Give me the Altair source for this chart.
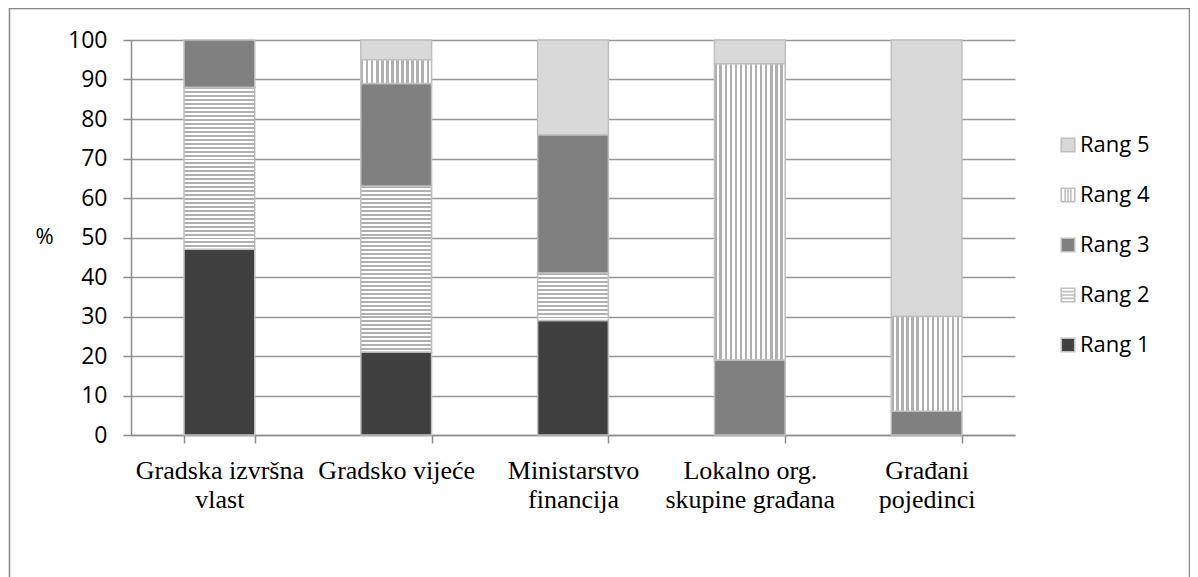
import altair as alt
import pandas as pd

categories = [
    "Gradska izvršna\nvlast",
    "Gradsko vijeće",
    "Ministarstvo\nfinancija",
    "Lokalno org.\nskupine građana",
    "Građani\npojedinci",
]
ranks = ["Rang 1", "Rang 2", "Rang 3", "Rang 4", "Rang 5"]
rang1 = [47, 21, 29, 0, 0]
rang2 = [41, 42, 12, 0, 0]
rang3 = [12, 26, 35, 19, 6]
rang4 = [0, 6, 0, 75, 24]
rang5 = [0, 5, 24, 6, 70]
series = [rang1, rang2, rang3, rang4, rang5]

STRIPE = "#b0b0b0"
WHITE = "#ffffff"
BORDER = "#bfbfbf"

rows = []
for ri, (r, vals) in enumerate(zip(ranks, series)):
    for c, v in zip(categories, vals):
        rows.append({"category": c, "rank": r, "order": ri, "value": v})
df = pd.DataFrame(rows)


def stripes(n, vertical):
    stops = []
    for i in range(n):
        a, b, c = i / n, (i + 0.5) / n, (i + 1) / n
        stops += [
            {"offset": a, "color": STRIPE},
            {"offset": b, "color": STRIPE},
            {"offset": b, "color": WHITE},
            {"offset": c, "color": WHITE},
        ]
    return {
        "gradient": "linear",
        "stops": stops,
        "x1": 0,
        "y1": 0,
        "x2": 1 if vertical else 0,
        "y2": 0 if vertical else 1,
    }


x_enc = alt.X(
    "category:N",
    sort=categories,
    scale=alt.Scale(paddingInner=0.6, paddingOuter=0.3),
    axis=alt.Axis(
        title=None,
        labelAngle=0,
        labelExpr="split(datum.label, '\\n')",
        labelFont="Liberation Serif",
        labelFontSize=26,
        labelLineHeight=29,
        labelColor="#000000",
        labelPadding=14,
        labelLimit=400,
        labelOverlap=False,
        tickBand="extent",
        tickSize=8,
        tickColor="#8c8c8c",
        tickWidth=1.5,
        domainColor="#8c8c8c",
        domainWidth=1.5,
        grid=False,
    ),
)
y_axis = alt.Axis(
    values=list(range(0, 101, 10)),
    title="%",
    titleAngle=0,
    titleFont="Open Sans",
    titleFontSize=22,
    titleFontWeight="normal",
    titleColor="#000000",
    titleX=-87,
    titleY=196,
    titleAlign="center",
    titleBaseline="middle",
    labelFont="Open Sans",
    labelFontSize=23,
    labelColor="#000000",
    labelPadding=16,
    tickSize=8,
    tickColor="#8c8c8c",
    tickWidth=1.5,
    domainColor="#8c8c8c",
    domainWidth=1.5,
    grid=True,
    gridColor="#989898",
    gridWidth=1.5,
)
y_scale = alt.Scale(domain=[0, 100], nice=False)
y_enc = alt.Y("y0:Q", scale=y_scale, axis=y_axis)

base = alt.Chart(df).transform_stack(
    stack="value",
    groupby=["category"],
    as_=["y0", "y1"],
    sort=[alt.SortField("order", order="ascending")],
).transform_filter("datum.value > 0")

legend_domain = ["Rang 5", "Rang 4", "Rang 3", "Rang 2", "Rang 1"]
legend_range = ["#d9d9d9", "#ffffff", "#808080", "#ffffff", "#404040"]
SQ = "M-1,-1H1V1H-1Z"
legend_shapes = [
    SQ,
    SQ + "M-0.42,-1V1M0,-1V1M0.42,-1V1",
    SQ,
    SQ + "M-1,-0.5H1M-1,0H1M-1,0.5H1",
    SQ,
]
legend = alt.Legend(
    title=None,
    orient="none",
    legendX=926,
    legendY=94,
    symbolSize=180,
    symbolStrokeWidth=1.6,
    symbolOpacity=1,
    labelFont="Open Sans",
    labelFontSize=22,
    labelColor="#000000",
    labelOffset=1,
    rowPadding=28,
)

solid_pred = alt.FieldOneOfPredicate(field="rank", oneOf=["Rang 1", "Rang 3", "Rang 5"])

# hidden points (covered by the solid bars) that carry the colour+shape legend
keys = base.transform_filter(solid_pred).transform_calculate(
    mid="(datum.y0 + datum.y1) / 2"
).mark_point(filled=True, size=20, opacity=1, stroke=BORDER, strokeWidth=1.6).encode(
    x=x_enc,
    y=alt.Y("mid:Q", scale=y_scale, axis=y_axis),
    color=alt.Color("rank:N", scale=alt.Scale(domain=legend_domain, range=legend_range), legend=legend),
    shape=alt.Shape("rank:N", scale=alt.Scale(domain=legend_domain, range=legend_shapes), legend=legend),
)

solid = base.transform_filter(solid_pred).mark_bar(stroke=BORDER, strokeWidth=1.5).encode(
    x=x_enc,
    y=y_enc,
    y2="y1:Q",
    color=alt.Color("rank:N", scale=alt.Scale(domain=legend_domain, range=legend_range), legend=None),
)

layers = [keys, solid]
for c, v in zip(categories, rang2):
    if v > 0:
        layers.append(
            base.transform_filter(
                (alt.datum.rank == "Rang 2") & (alt.datum.category == c)
            ).mark_bar(fill=stripes(int(round(v)), False), stroke=BORDER, strokeWidth=1.5)
            .encode(x=x_enc, y=y_enc, y2="y1:Q")
        )
layers.append(
    base.transform_filter(alt.datum.rank == "Rang 4")
    .mark_bar(fill=stripes(14, True), stroke=BORDER, strokeWidth=1.5)
    .encode(x=x_enc, y=y_enc, y2="y1:Q")
)

frame = alt.Chart(pd.DataFrame({"a": [0]})).mark_rect(
    filled=False, stroke="#868686", strokeWidth=1.5
).encode(
    x=alt.value(-121.5), x2=alt.value(1058.5), y=alt.value(-31.5), y2=alt.value(600)
)
layers.append(frame)

chart = alt.layer(*layers).properties(
    width=884,
    height=395,
    padding={"left": 123, "top": 32, "right": 175, "bottom": 142},
    autosize=alt.AutoSizeParams(type="none"),
    background="#ffffff",
).configure_view(stroke=None)

chart.save("out.html", embed_options={"renderer": "svg", "actions": False})
